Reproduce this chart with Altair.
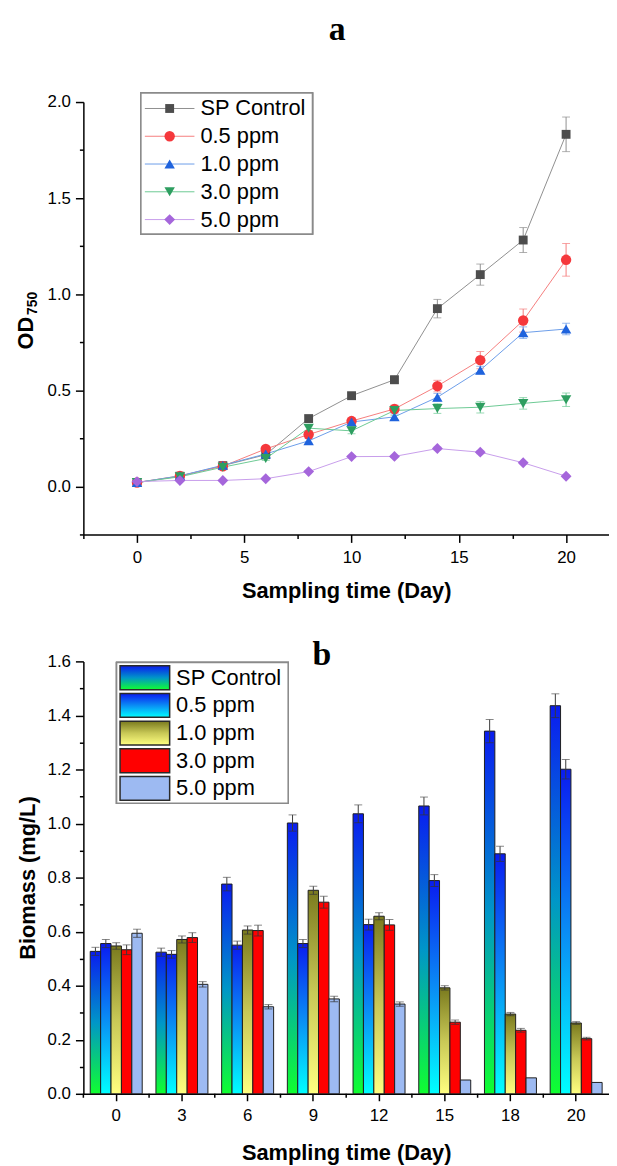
import altair as alt
import pandas as pd

# ---------------- Panel a: OD750 growth curves ----------------
days_a = [0, 2, 4, 6, 8, 10, 12, 14, 16, 18, 20]
series = ["SP Control", "0.5 ppm", "1.0 ppm", "3.0 ppm", "5.0 ppm"]

od_sp = [0.020, 0.053, 0.108, 0.165, 0.353, 0.472, 0.555, 0.925, 1.102, 1.282, 1.832]
od_sp_err = [0.010, 0.010, 0.010, 0.012, 0.015, 0.015, 0.020, 0.048, 0.055, 0.065, 0.090]
od_05 = [0.020, 0.055, 0.105, 0.195, 0.270, 0.340, 0.403, 0.522, 0.657, 0.863, 1.179]
od_05_err = [0.010, 0.010, 0.010, 0.012, 0.015, 0.015, 0.020, 0.030, 0.045, 0.060, 0.085]
od_10 = [0.020, 0.055, 0.110, 0.169, 0.237, 0.335, 0.362, 0.464, 0.605, 0.800, 0.819]
od_10_err = [0.010, 0.010, 0.010, 0.010, 0.012, 0.015, 0.015, 0.020, 0.020, 0.030, 0.030]
od_30 = [0.020, 0.050, 0.100, 0.145, 0.303, 0.289, 0.395, 0.405, 0.412, 0.432, 0.451]
od_30_err = [0.010, 0.010, 0.010, 0.010, 0.012, 0.015, 0.025, 0.025, 0.030, 0.030, 0.035]
od_50 = [0.025, 0.031, 0.031, 0.040, 0.077, 0.155, 0.156, 0.197, 0.178, 0.123, 0.053]
od_50_err = [0.005, 0.005, 0.005, 0.005, 0.005, 0.006, 0.006, 0.008, 0.008, 0.006, 0.005]

od_vals = [od_sp, od_05, od_10, od_30, od_50]
od_errs = [od_sp_err, od_05_err, od_10_err, od_30_err, od_50_err]

# ---------------- Panel b: biomass bars ----------------
days_b = ["0", "3", "6", "9", "12", "15", "18", "20"]
bm_sp = [0.527, 0.524, 0.776, 1.002, 1.036, 1.065, 1.342, 1.436]
bm_sp_err = [0.015, 0.015, 0.025, 0.030, 0.033, 0.033, 0.043, 0.044]
bm_05 = [0.556, 0.516, 0.550, 0.556, 0.626, 0.789, 0.888, 1.201]
bm_05_err = [0.015, 0.014, 0.015, 0.015, 0.020, 0.022, 0.028, 0.036]
bm_10 = [0.547, 0.571, 0.606, 0.753, 0.657, 0.392, 0.295, 0.262]
bm_10_err = [0.012, 0.013, 0.015, 0.015, 0.013, 0.008, 0.006, 0.005]
bm_30 = [0.533, 0.578, 0.604, 0.709, 0.625, 0.265, 0.235, 0.204]
bm_30_err = [0.018, 0.018, 0.020, 0.022, 0.020, 0.008, 0.007, 0.005]
bm_50 = [0.594, 0.405, 0.322, 0.351, 0.332, 0.051, 0.059, 0.042]
bm_50_err = [0.015, 0.010, 0.008, 0.010, 0.008, 0.0, 0.0, 0.0]

bm_vals = [bm_sp, bm_05, bm_10, bm_30, bm_50]
bm_errs = [bm_sp_err, bm_05_err, bm_10_err, bm_30_err, bm_50_err]

# ---------------- styles ----------------
SANS = "Liberation Sans"
SERIF = "Liberation Serif"
marker_color = ["#4d4d4d", "#f5383c", "#1f63dd", "#2e9e60", "#a566db"]
line_color = ["#8f8f8f", "#f57d7d", "#6b9de9", "#6cc994", "#c79deb"]
shapes = ["square", "circle", "triangle-up", "triangle-down", "diamond"]
msizes = [80, 110, 110, 110, 120]


def grad(stops):
    return {"gradient": "linear", "x1": 0, "y1": 0, "x2": 0, "y2": 1,
            "stops": [{"offset": o, "color": c} for o, c in stops]}


bar_fill = [
    grad([(0, "#0a1cf0"), (0.5, "#0096c8"), (1, "#10ff30")]),
    grad([(0, "#0a1cf0"), (0.5, "#0a8cf4"), (1, "#00ffff")]),
    grad([(0, "#7a7a1e"), (0.5, "#c8c856"), (1, "#ffff80")]),
    "#ff0000",
    "#9dbaf2",
]

W = 530
H = 436

# ---------------- Panel a ----------------
rows_a = []
for s, vals, errs in zip(series, od_vals, od_errs):
    for d, v, e in zip(days_a, vals, errs):
        rows_a.append({"day": d, "series": s, "od": v, "lo": v - e, "hi": v + e})
df_a = pd.DataFrame(rows_a)

xa_axis = alt.Axis(
    values=[-2.5, 0, 2.5, 5, 7.5, 10, 12.5, 15, 17.5, 20],
    labelExpr="round(datum.value/2.5)%2==0 ? format(datum.value,'d') : ''",
    tickSize={"condition": {"test": "round(datum.value/2.5)%2!=0", "value": 4}, "value": 8},
    title="Sampling time (Day)", labelOverlap=False, titlePadding=16,
)
ya_axis = alt.Axis(
    values=[-0.25, 0, 0.25, 0.5, 0.75, 1.0, 1.25, 1.5, 1.75, 2.0],
    labelExpr="round(datum.value*4)%2==0 ? format(datum.value,'.1f') : ''",
    tickSize={"condition": {"test": "round(datum.value*4)%2!=0", "value": 4}, "value": 8},
    title=None, labelOverlap=False, labelPadding=5,
)
xa = alt.X("day:Q", scale=alt.Scale(domain=[-2.5, 22.0], nice=False, zero=False), axis=xa_axis)


def ya(field):
    return alt.Y(field, type="quantitative",
                 scale=alt.Scale(domain=[-0.25, 2.0], nice=False, zero=False), axis=ya_axis)


layers_a = []
for i, s in enumerate(series):
    d = df_a[df_a.series == s]
    base = alt.Chart(d)
    layers_a.append(base.mark_line(color=line_color[i], strokeWidth=1).encode(x=xa, y=ya("od")))
    layers_a.append(base.mark_rule(color=line_color[i], strokeWidth=1).encode(x=xa, y=ya("lo"), y2="hi"))
    layers_a.append(base.mark_tick(orient="horizontal", size=8, thickness=1, color=line_color[i]).encode(x=xa, y=ya("hi")))
    layers_a.append(base.mark_tick(orient="horizontal", size=8, thickness=1, color=line_color[i]).encode(x=xa, y=ya("lo")))
for i, s in enumerate(series):
    d = df_a[df_a.series == s]
    layers_a.append(alt.Chart(d).mark_point(shape=shapes[i], filled=True, opacity=1,
                                             color=marker_color[i], size=msizes[i])
                    .encode(x=xa, y=ya("od")))

# legend a (manual: line + marker)
leg_a = pd.DataFrame({"series": series})
layers_a.append(alt.Chart(leg_a).mark_rect(fill="white", stroke="#8a8a8a", strokeWidth=1.5)
                .encode(x=alt.value(58), x2=alt.value(231), y=alt.value(-9), y2=alt.value(133)))
for i, s in enumerate(series):
    yrow = 6.5 + 28 * i
    one = alt.Chart(leg_a[leg_a.series == s])
    layers_a.append(one.mark_rule(color=line_color[i], strokeWidth=1)
                    .encode(x=alt.value(62), x2=alt.value(112), y=alt.value(yrow)))
    layers_a.append(one.mark_point(shape=shapes[i], filled=True, opacity=1,
                                   color=marker_color[i], size=msizes[i])
                    .encode(x=alt.value(87), y=alt.value(yrow)))
    layers_a.append(one.mark_text(align="left", baseline="middle", font=SANS, fontSize=22, color="black")
                    .encode(x=alt.value(118), y=alt.value(yrow), text="series:N"))

# panel title and y title
lab = pd.DataFrame({"t": ["a"]})
layers_a.append(alt.Chart(lab).mark_text(font=SERIF, fontWeight="bold", fontSize=34,
                                         baseline="alphabetic", align="center")
                .encode(x=alt.value(256), y=alt.value(-63), text="t:N"))
ytit = pd.DataFrame({"t": ["OD"], "s": ["750"]})
layers_a.append(alt.Chart(ytit).mark_text(font=SANS, fontWeight="bold", fontSize=22, angle=270,
                                          baseline="middle", align="center")
                .encode(x=alt.value(-58), y=alt.value(233), text="t:N"))
layers_a.append(alt.Chart(ytit).mark_text(font=SANS, fontWeight="bold", fontSize=14, angle=270,
                                          baseline="middle", align="center")
                .encode(x=alt.value(-51), y=alt.value(203), text="s:N"))

panel_a = alt.layer(*layers_a).properties(width=W, height=H)

# ---------------- Panel b ----------------
rows_b = []
for s, vals, errs in zip(series, bm_vals, bm_errs):
    for d, v, e in zip(days_b, vals, errs):
        rows_b.append({"day": d, "series": s, "bm": v, "err": e, "lo": v - e, "hi": v + e})
df_b = pd.DataFrame(rows_b)

xb_axis = alt.Axis(title="Sampling time (Day)", labelAngle=0, tickSize=7, titlePadding=19)
yb_axis = alt.Axis(
    values=[round(0.1 * k, 1) for k in range(17)],
    labelExpr="round(datum.value*10)%2==0 ? format(datum.value,'.1f') : ''",
    tickSize={"condition": {"test": "round(datum.value*10)%2!=0", "value": 4}, "value": 8},
    title="Biomass (mg/L)", labelOverlap=False, labelPadding=5, titlePadding=8,
)
xb_scale = alt.Scale(domain=days_b, paddingInner=0, paddingOuter=0)
xb = alt.X("day:O", scale=xb_scale, axis=xb_axis, sort=days_b)
xoff = alt.XOffset("series:N", scale=alt.Scale(domain=series, paddingInner=0, paddingOuter=0.66))


def yb(field):
    return alt.Y(field, type="quantitative", scale=alt.Scale(domain=[0, 1.6], nice=False), axis=yb_axis)


layers_b = []
for i, s in enumerate(series):
    d = df_b[df_b.series == s]
    layers_b.append(alt.Chart(d).mark_bar(fill=bar_fill[i], stroke="#1e1e1e", strokeWidth=1)
                    .encode(x=xb, xOffset=xoff, y=yb("bm")))
eb = alt.Chart(df_b[df_b.err > 0])
layers_b.append(eb.mark_rule(color="#3a3a3a", strokeWidth=1).encode(x=xb, xOffset=xoff, y=yb("lo"), y2="hi"))
layers_b.append(eb.mark_tick(orient="horizontal", size=8, thickness=1, color="#555555")
                .encode(x=xb, xOffset=xoff, y=yb("hi")))
layers_b.append(eb.mark_tick(orient="horizontal", size=8, thickness=1, color="#333333")
                .encode(x=xb, xOffset=xoff, y=yb("lo")))

# minor boundary ticks on x axis
cats = pd.DataFrame({"day": days_b})
layers_b.append(alt.Chart(cats).mark_rule(color="black", strokeWidth=1.5)
                .encode(x=alt.X("day:O", scale=xb_scale, axis=xb_axis, sort=days_b, bandPosition=0),
                        y=alt.value(H), y2=alt.value(H + 4)))

# legend b (manual gradient swatches)
leg_b = pd.DataFrame({"series": series})
layers_b.append(alt.Chart(leg_b).mark_rect(fill="white", stroke="#8a8a8a", strokeWidth=1.5)
                .encode(x=alt.value(33.5), x2=alt.value(206.5), y=alt.value(1), y2=alt.value(143)))
for i, s in enumerate(series):
    yrow = 16.5 + 27.9 * i
    one = alt.Chart(leg_b[leg_b.series == s])
    layers_b.append(one.mark_rect(fill=bar_fill[i], stroke="#2a2a2a", strokeWidth=1.5)
                    .encode(x=alt.value(37), x2=alt.value(87), y=alt.value(yrow - 12), y2=alt.value(yrow + 12)))
    layers_b.append(one.mark_text(align="left", baseline="middle", font=SANS, fontSize=22, color="black")
                    .encode(x=alt.value(93.5), y=alt.value(yrow), text="series:N"))

labb = pd.DataFrame({"t": ["b"]})
layers_b.append(alt.Chart(labb).mark_text(font=SERIF, fontWeight="bold", fontSize=34,
                                          baseline="middle", align="center")
                .encode(x=alt.value(240.5), y=alt.value(-6), text="t:N"))

panel_b = alt.layer(*layers_b).properties(width=W, height=H)

chart = alt.vconcat(panel_a, panel_b, spacing=128, bounds="flush").properties(
    padding={"left": 7, "top": 0, "right": 0, "bottom": 0}
).configure_view(stroke=None).configure_axis(
    grid=False,
    domainColor="black", domainWidth=1.5,
    tickColor="black", tickWidth=1.5,
    labelFont=SANS, labelFontSize=17, labelColor="black",
    titleFont=SANS, titleFontSize=22, titleFontWeight="bold", titleColor="black",
).configure_axisX(labelPadding=7).configure_text(font=SANS)

chart.save("out.html", embed_options={"renderer": "svg", "actions": False})
